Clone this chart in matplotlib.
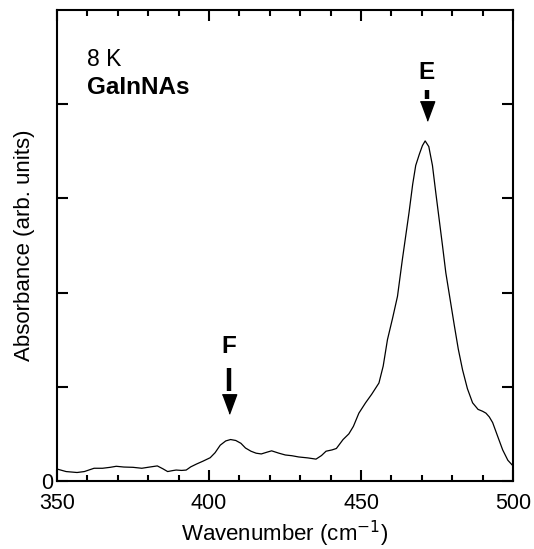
import matplotlib
matplotlib.use("Agg")
import matplotlib.pyplot as plt
from matplotlib.ticker import MultipleLocator

plt.rcParams['font.family'] = ['Liberation Sans', 'DejaVu Sans']

# absorbance spectrum
wavenumber = [350, 353, 356.6, 359, 362.2, 365, 367.5, 369.5, 372, 375, 377.9, 380.5,
              383.0, 384.8, 386.4, 388, 389.2, 391, 392.5, 394, 395.9, 398, 400.4, 402,
              403.7, 405.5, 407.1, 408.8, 410.5, 412, 413.8, 415.5, 417.2, 419, 420.6,
              423, 425.1, 427.3, 429.5, 432.5, 435.2, 437, 438.5, 440.5, 441.9, 444.1,
              446.0, 447.5, 449.3, 451.5, 453.5, 455.9, 457.3, 458.7, 460.4, 462.0,
              463.6, 464.7, 465.8, 467.0, 468.0, 469.2, 470.2, 471.1, 472.3, 473.5,
              474.6, 475.7, 476.8, 477.9, 479.3, 480.7, 482.0, 483.4, 485.0, 486.7,
              488.5, 490.0, 491.1, 492.2, 493.3, 495.0, 496.6, 498.3, 500]
absorbance = [0.127, 0.10, 0.09, 0.10, 0.135, 0.135, 0.145, 0.156, 0.148, 0.145, 0.135, 0.148,
              0.16, 0.13, 0.10, 0.11, 0.116, 0.112, 0.116, 0.15, 0.18, 0.21, 0.247, 0.30,
              0.38, 0.425, 0.44, 0.43, 0.40, 0.35, 0.316, 0.295, 0.287, 0.305, 0.32,
              0.295, 0.276, 0.268, 0.255, 0.245, 0.232, 0.27, 0.316, 0.33, 0.345, 0.44,
              0.50, 0.58, 0.72, 0.83, 0.92, 1.04, 1.22, 1.50, 1.73, 1.96,
              2.35, 2.60, 2.85, 3.15, 3.35, 3.47, 3.56, 3.61, 3.55, 3.35,
              3.06, 2.78, 2.50, 2.21, 1.93, 1.65, 1.40, 1.18, 0.98, 0.83,
              0.76, 0.74, 0.72, 0.68, 0.62, 0.47, 0.33, 0.22, 0.16]

# peak markers: label, position, label height, stem top/bottom, head centre
peak_names = ['F', 'E']
peak_pos = [406.6, 471.6]
label_y = [1.43, 4.34]
stem_top = [1.20, 4.15]
stem_bottom = [0.95, 4.06]
head_y = [0.815, 3.925]

fig = plt.figure(figsize=(5.34, 5.49), dpi=100)
ax = fig.add_axes([0.1067, 0.1239, 0.854, 0.8579])

ax.plot(wavenumber, absorbance, color='black', lw=0.9)

head = [(-0.37, 0.5), (0.37, 0.5), (0, -0.5)]
for name, x, ly, st, sb, hy in zip(peak_names, peak_pos, label_y, stem_top, stem_bottom, head_y):
    ax.text(x, ly, name, ha='center', va='center', fontsize=17.5, fontweight='bold')
    ax.plot([x, x], [sb, st], color='black', lw=3.2, solid_capstyle='butt')
    ax.plot([x], [hy], marker=head, color='black', markersize=14, linestyle='none')

ax.text(0.066, 0.894, '8 K', transform=ax.transAxes, fontsize=16.5, va='center')
ax.text(0.066, 0.836, 'GaInNAs', transform=ax.transAxes, fontsize=17.5,
        fontweight='bold', va='center')

ax.set_xlim(350, 500)
ax.set_ylim(0, 5)
ax.xaxis.set_major_locator(MultipleLocator(50))
ax.xaxis.set_minor_locator(MultipleLocator(10))
ax.set_yticks([0, 1, 2, 3, 4])
ax.set_yticklabels(['0', '', '', '', ''])

ax.tick_params(which='both', direction='in', top=True, right=True, width=1.5)
ax.tick_params(which='major', length=8)
ax.tick_params(which='minor', length=4.5)
ax.tick_params(axis='x', labelsize=15.5, pad=8.5)
ax.tick_params(axis='y', labelsize=15.5, pad=3)
for s in ax.spines.values():
    s.set_linewidth(1.5)

ax.set_xlabel('Wavenumber (cm$^{-1}$)', fontsize=16, labelpad=3.5)
ax.set_ylabel('Absorbance (arb. units)', fontsize=16, labelpad=4)

fig.savefig('out.png', dpi=100)
